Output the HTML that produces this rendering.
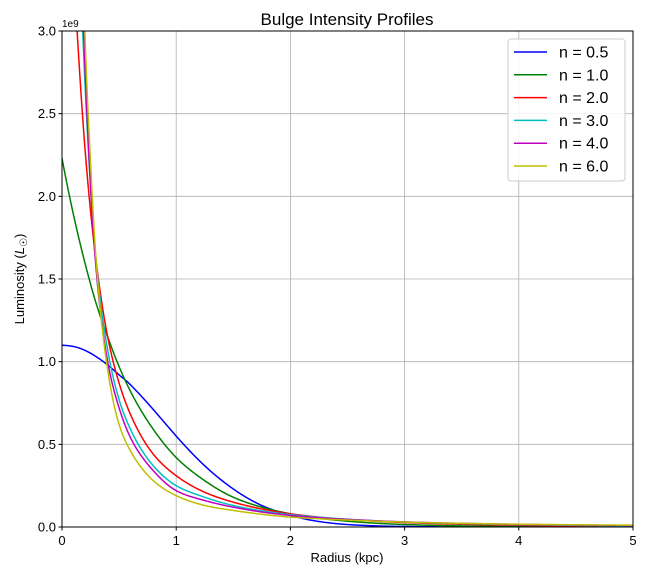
<!DOCTYPE html>
<html><head><meta charset="utf-8"><style>
body{margin:0;background:#fff;}
svg text{font-family:"Liberation Sans","DejaVu Sans",sans-serif;fill:#000;}
</style></head><body>
<svg id="chart" width="648" height="576" viewBox="0 0 648 576">
<defs><clipPath id="plotclip"><rect x="62" y="31" width="571" height="496"/></clipPath></defs>
<rect x="0" y="0" width="648" height="576" fill="#fff"/>
<g id="grid"></g>
<g id="series" clip-path="url(#plotclip)"></g>
<rect x="62" y="31" width="571" height="496" fill="none" stroke="#000" stroke-width="1"/>
<g id="ticks"></g>
<text x="347" y="25" font-size="17" text-anchor="middle">Bulge Intensity Profiles</text>
<text x="347" y="562" font-size="13" text-anchor="middle">Radius (kpc)</text>
<text transform="translate(24,279) rotate(-90)" font-size="13" text-anchor="middle">Luminosity (<tspan font-style="italic">L</tspan><tspan font-size="10" dy="3">☉</tspan><tspan dy="-3">)</tspan></text>
<text x="62" y="27" font-size="10">1e9</text>
<g id="legend">
<rect x="508" y="39" width="117" height="142" fill="#fff" fill-opacity="0.85" stroke="#ccc" rx="3"/>
</g>
</svg>
<script>
const xTicks=[0,1,2,3,4,5];
const yTicks=[0,0.5,1.0,1.5,2.0,2.5,3.0];
const yTickLabels=["0.0","0.5","1.0","1.5","2.0","2.5","3.0"];
const seriesNames=["n = 0.5","n = 1.0","n = 2.0","n = 3.0","n = 4.0","n = 6.0"];
const seriesColors=["#0000ff","#008000","#ff0000","#00bfbf","#bf00bf","#bfbf00"];
const r05=[0,0.1,0.2,0.3,0.4,0.5,0.6,0.8,1.0,1.25,1.5,1.75,2.0,2.5,3,4,5];
const v05=[1.10,1.092,1.069,1.03,0.98,0.92,0.86,0.71,0.55,0.37,0.23,0.13,0.07,0.015,0.003,0.0001,0.00001];
const r10=[0,0.1,0.2,0.3,0.4,0.5,0.6,0.8,1.0,1.25,1.5,2,2.5,3,4,5];
const v10=[2.23,1.89,1.60,1.35,1.15,0.97,0.82,0.59,0.42,0.28,0.18,0.08,0.035,0.015,0.003,0.001];
const r20=[0.1,0.15,0.2,0.3,0.4,0.5,0.6,0.8,1,1.25,1.5,2,2.5,3,4,5];
const v20=[3.4,2.8,2.3,1.6,1.15,0.87,0.68,0.44,0.31,0.21,0.15,0.08,0.045,0.027,0.01,0.004];
const r30=[0.15,0.2,0.3,0.4,0.5,0.6,0.8,1,1.25,1.5,2,2.5,3,4,5];
const v30=[3.6,2.7,1.6,1.07,0.77,0.59,0.37,0.25,0.18,0.13,0.075,0.047,0.03,0.014,0.007];
const r40=[0.15,0.2,0.3,0.4,0.5,0.6,0.8,1,1.25,1.5,2,2.5,3,4,5];
const v40=[3.8,2.8,1.55,1.0,0.72,0.54,0.34,0.22,0.16,0.12,0.07,0.046,0.031,0.016,0.009];
const r60=[0.18,0.2,0.25,0.3,0.4,0.5,0.6,0.8,1,1.25,1.5,2,2.5,3,4,5];
const v60=[3.5,3.0,2.2,1.6,0.95,0.62,0.46,0.28,0.19,0.13,0.1,0.06,0.042,0.03,0.017,0.011];
const radii=[r05,r10,r20,r30,r40,r60];
const values=[v05,v10,v20,v30,v40,v60];
const NS="http://www.w3.org/2000/svg";
const X0=62,X1=633,Y0=527,Y1=31;
function xs(v){return X0+(v-0)/(5-0)*(X1-X0);}
function ys(v){return Y0-(v-0)/(3-0)*(Y0-Y1);}
function mk(tag,attrs,parent){const e=document.createElementNS(NS,tag);for(const k in attrs)e.setAttribute(k,attrs[k]);parent.appendChild(e);return e;}
const grid=document.getElementById('grid'),ticks=document.getElementById('ticks');
xTicks.forEach(t=>{
 const g=mk('line',{x1:xs(t),x2:xs(t),y1:Y1,y2:Y0,stroke:'#b0b0b0','stroke-width':0.8},grid);
 
 
 const tk=mk('line',{x1:xs(t),x2:xs(t),y1:Y0,y2:Y0+3.5,stroke:'#000'},ticks);
 
 
 const tx=mk('text',{x:xs(t),y:Y0+18,'font-size':13,'text-anchor':'middle'},ticks);
 tx.textContent=String(t);
 
 
});
yTicks.forEach((t,i)=>{
 const g=mk('line',{x1:X0,x2:X1,y1:ys(t),y2:ys(t),stroke:'#b0b0b0','stroke-width':0.8},grid);
 
 
 const tk=mk('line',{x1:X0-3.5,x2:X0,y1:ys(t),y2:ys(t),stroke:'#000'},ticks);
 
 
 const tx=mk('text',{x:X0-6,y:ys(t)+4.5,'font-size':13,'text-anchor':'end'},ticks);
 tx.textContent=yTickLabels[i];
 
 
});
function monotone(xa,ya){
 const n=xa.length,d=[],m=[];
 for(let i=0;i<n-1;i++)d.push((ya[i+1]-ya[i])/(xa[i+1]-xa[i]));
 m[0]=d[0];m[n-1]=d[n-2];
 for(let i=1;i<n-1;i++){m[i]=(d[i-1]*d[i]<=0)?0:(d[i-1]+d[i])/2;}
 for(let i=0;i<n-1;i++){
  if(d[i]===0){m[i]=0;m[i+1]=0;continue;}
  const a=m[i]/d[i],b=m[i+1]/d[i],s=a*a+b*b;
  if(s>9){const t=3/Math.sqrt(s);m[i]=t*a*d[i];m[i+1]=t*b*d[i];}
 }
 return function(x){
  let i=0;while(i<n-2&&x>xa[i+1])i++;
  const h=xa[i+1]-xa[i],t=(x-xa[i])/h,t2=t*t,t3=t2*t;
  return (2*t3-3*t2+1)*ya[i]+(t3-2*t2+t)*h*m[i]+(-2*t3+3*t2)*ya[i+1]+(t3-t2)*h*m[i+1];
 };
}
const series=document.getElementById('series');
values.forEach((vals,s)=>{
 const xr=radii[s];
 const f=monotone(xr,vals.map(v=>Math.log(v)));
 const pts=[];
 const a=xr[0],b=xr[xr.length-1];
 for(let k=0;k<=600;k++){const r=a+(b-a)*k/600;pts.push(xs(r).toFixed(2)+','+ys(Math.exp(f(r))).toFixed(2));}
 const p=mk('path',{d:'M'+pts.join(' L'),fill:'none',stroke:seriesColors[s],'stroke-width':1.5},series);
 
 
});
const legend=document.getElementById('legend');
seriesNames.forEach((n,i)=>{
 const y=52+i*22.8;
 const l=mk('line',{x1:514,x2:547,y1:y,y2:y,stroke:seriesColors[i],'stroke-width':1.5},legend);
 
 
 const t=mk('text',{x:559,y:y+5.5,'font-size':16},legend);
 t.textContent=n;
 
 
});
</script>
</body></html>
